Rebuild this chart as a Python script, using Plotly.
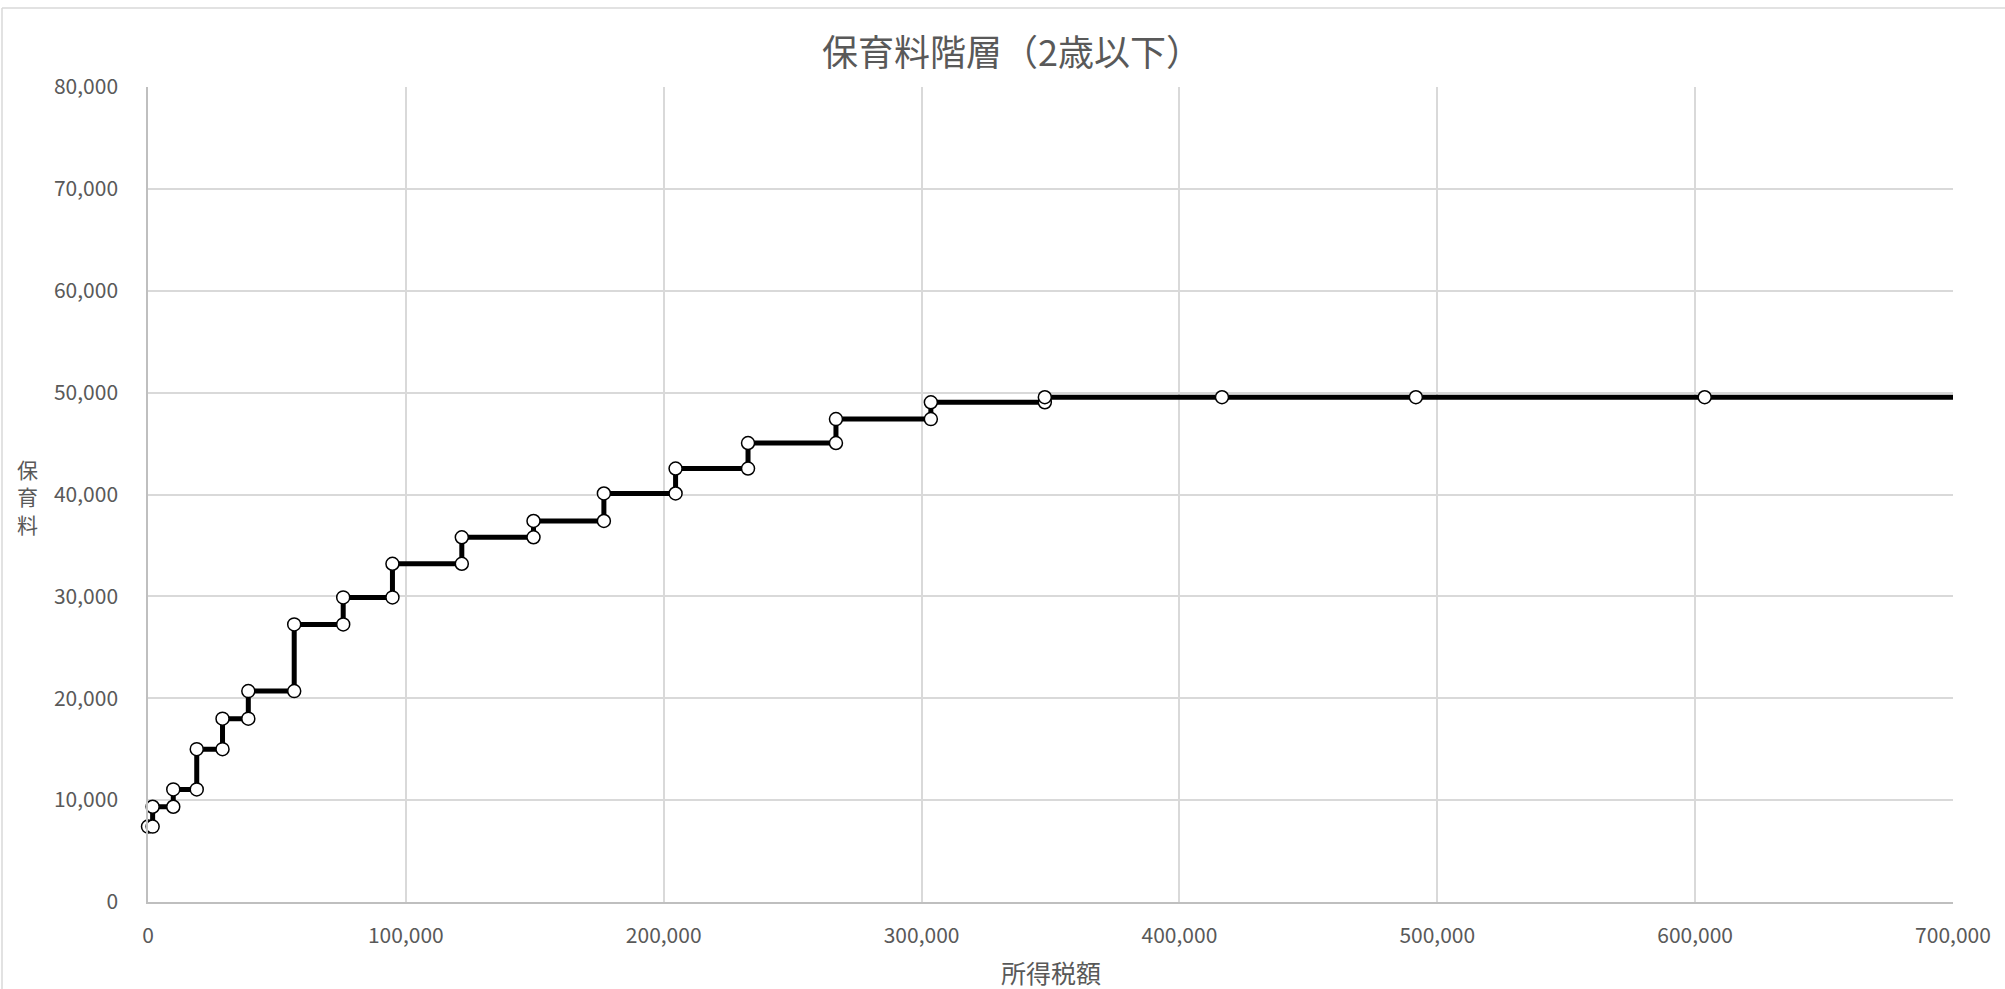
import plotly.graph_objects as go

# ---- data ----
step_income = [0, 1800, 9800, 18900, 28900, 38900, 56700, 75700, 94800, 121700,
               149500, 176800, 204600, 232700, 266800, 303600, 347800]
step_fee = [7400, 9350, 11050, 15000, 18000, 20700, 27250, 29900, 33200, 35800,
            37400, 40100, 42550, 45050, 47400, 49050, 49550]
flat_income = [416500, 491700, 603700, 734000]
flat_fee = [49550, 49550, 49550, 49550]

title_text = "保育料階層（2歳以下）"
x_title = "所得税額"
y_title = "保育料"

X_MAX = 700000
Y_MAX = 80000

# build step series (two points per threshold)
xs, ys = [], []
for i, (xv, fv) in enumerate(zip(step_income, step_fee)):
    if i > 0:
        xs.append(xv)
        ys.append(step_fee[i - 1])
    xs.append(xv)
    ys.append(fv)
xs += flat_income
ys += flat_fee

# markers only for points inside the axis range
mx = [x for x in xs if x <= X_MAX]
my = [y for x, y in zip(xs, ys) if x <= X_MAX]

FONT = "Noto Sans CJK JP"
GRAY = "#595959"

fig = go.Figure()
fig.add_trace(go.Scatter(
    x=xs, y=ys, mode="lines",
    line=dict(color="black", width=5),
    showlegend=False, hoverinfo="skip",
))
fig.add_trace(go.Scatter(
    x=mx, y=my, mode="markers", cliponaxis=False,
    marker=dict(size=13, color="white", line=dict(color="black", width=1.5)),
    showlegend=False, hoverinfo="x+y",
))

W, H = 2005, 989
L, R, T, B = 148, 52, 87, 87
pw, ph = W - L - R, H - T - B

def px2paper_x(px):
    return (px - L) / pw

def px2paper_y(py):
    return (H - B - py) / ph

fig.update_layout(
    width=W, height=H,
    margin=dict(l=L, r=R, t=T, b=B, pad=0),
    paper_bgcolor="white", plot_bgcolor="white",
    font=dict(family=FONT, color=GRAY, size=20),
    title=dict(text=title_text, x=1012 / W, xanchor="center",
               y=1 - 53 / H, yanchor="middle", xref="container", yref="container",
               font=dict(size=36, color=GRAY, family=FONT)),
    xaxis=dict(range=[0, X_MAX], dtick=100000, tickformat=",d",
               showgrid=True, gridcolor="#d9d9d9", gridwidth=1.5,
               showline=True, linecolor="#bfbfbf", linewidth=1.5,
               zeroline=False, ticks="", ticklabelstandoff=14,
               tickfont=dict(size=21, color=GRAY, family=FONT)),
    yaxis=dict(range=[0, Y_MAX], dtick=10000, tickformat=",d",
               showgrid=True, gridcolor="#d9d9d9", gridwidth=1.5,
               showline=True, linecolor="#bfbfbf", linewidth=1.5,
               zeroline=False, ticks="", ticklabelstandoff=24,
               tickfont=dict(size=21, color=GRAY, family=FONT)),
    annotations=[
        dict(text=x_title, x=0.5, y=px2paper_y(972), xref="paper", yref="paper",
             xanchor="center", yanchor="middle", showarrow=False,
             font=dict(size=25, color=GRAY, family=FONT)),
        dict(text="<br>".join(list(y_title)), x=px2paper_x(27), y=px2paper_y(496),
             xref="paper", yref="paper", xanchor="center", yanchor="middle",
             showarrow=False, align="center",
             font=dict(size=21, color=GRAY, family=FONT)),
    ],
    shapes=[
        dict(type="line", xref="paper", yref="paper",
             x0=px2paper_x(2), x1=px2paper_x(2200), y0=px2paper_y(8), y1=px2paper_y(8),
             line=dict(color="#d9d9d9", width=1.5)),
        dict(type="line", xref="paper", yref="paper",
             x0=px2paper_x(2), x1=px2paper_x(2), y0=px2paper_y(8), y1=px2paper_y(1200),
             line=dict(color="#d9d9d9", width=1.5)),
    ],
)

fig.write_html("out.html")
